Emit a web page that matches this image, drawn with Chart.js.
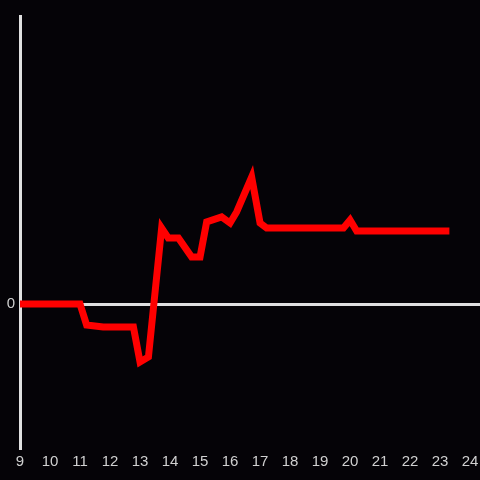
<!DOCTYPE html>
<html>
<head>
<meta charset="utf-8">
<script src="https://cdn.jsdelivr.net/npm/chart.js@4/dist/chart.umd.min.js"></script>
<style>
  html, body { margin: 0; padding: 0; background: #050307; }
  #wrap { width: 480px; height: 480px; }
</style>
</head>
<body>
<div id="wrap"><canvas id="myChart"></canvas></div>
<script>
// x values (hours) and y values
const hours = [9, 11.0, 11.22, 11.77, 12.78, 13.0, 13.28, 13.72, 13.94, 14.28, 14.72, 15.0,
               15.22, 15.72, 16.0, 16.22, 16.72, 17.0, 17.22, 19.78, 20.0, 20.22, 23.31];
const values = [0, 0, -2.1, -2.3, -2.3, -5.8, -5.3, 7.6, 6.6, 6.6, 4.7, 4.7,
                8.2, 8.7, 8.1, 9.2, 12.7, 8.1, 7.6, 7.6, 8.4, 7.3, 7.3];
const xTicks = [9, 10, 11, 12, 13, 14, 15, 16, 17, 18, 19, 20, 21, 22, 23, 24];
const yTicks = [0];

let points = hours.map((h, i) => ({ x: h, y: values[i] }));

let ctx = document.getElementById('myChart').getContext('2d');

let myChart = new Chart(ctx, {
    type: 'line',
    data: {
        datasets: [{
            data: points,
            borderColor: '#ff0000',
            borderWidth: 7,
            pointRadius: 0,
            tension: 0,
            fill: false
        }]
    },
    options: {
        responsive: true,
        maintainAspectRatio: false,
        animation: false,
        layout: { padding: { top: 16, right: 0, left: 0, bottom: 0 } },
        plugins: { legend: { display: false }, tooltip: { enabled: false } },
        scales: {
            x: {
                type: 'linear',
                min: 9,
                max: 24.33,
                afterBuildTicks: s => { s.ticks = xTicks.map(v => ({ value: v })); },
                afterFit: s => { s.height = 32; s.paddingRight = 0; s.paddingLeft = 0; },
                grid: { display: false },
                border: { display: false },
                ticks: {
                    color: '#d0d0d0',
                    font: { family: 'Liberation Sans', size: 15 },
                    padding: -3,
                    maxRotation: 0,
                    autoSkip: false
                }
            },
            y: {
                min: -14.4,
                max: 28.8,
                afterBuildTicks: s => { s.ticks = yTicks.map(v => ({ value: v })); },
                afterFit: s => { s.width = 20; s.paddingTop = 0; s.paddingBottom = 0; },
                grid: {
                    drawTicks: false,
                    color: c => (c.tick && c.tick.value === 0) ? '#e0e0e0' : 'transparent',
                    lineWidth: 3
                },
                border: { display: true, color: '#e0e0e0', width: 3 },
                ticks: {
                    color: '#d0d0d0',
                    font: { family: 'Liberation Sans', size: 15 },
                    padding: 5
                }
            }
        }
    }
});
</script>
</body>
</html>
